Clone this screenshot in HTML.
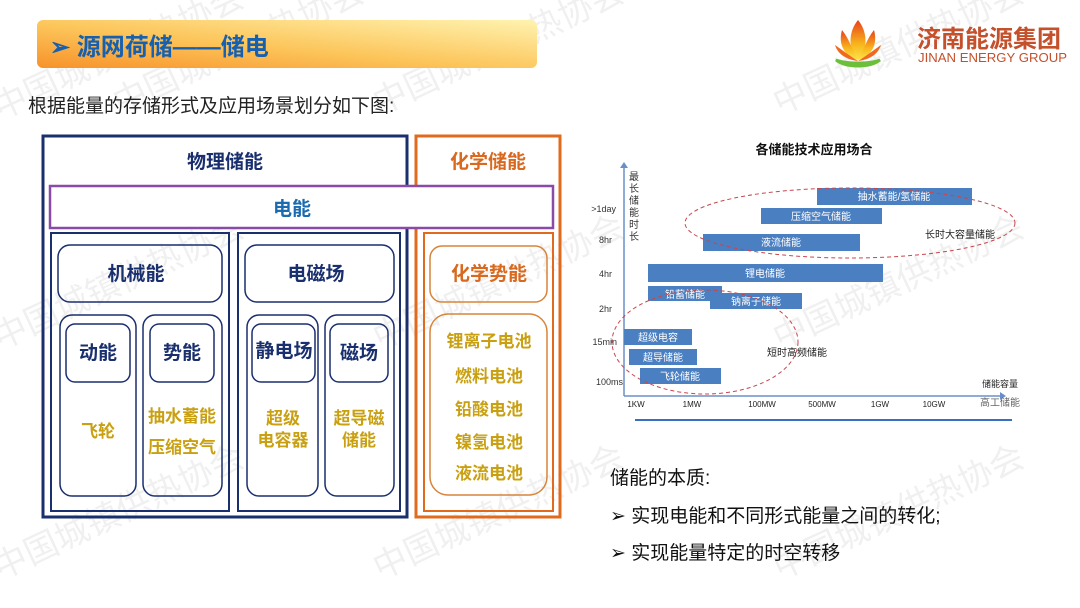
<!DOCTYPE html>
<html><head><meta charset="utf-8"><style>
html,body{margin:0;padding:0;background:#fff;}
svg{display:block;}
text{font-family:"Liberation Sans","Noto Sans CJK SC",sans-serif;}
</style></head><body>
<svg width="1080" height="608" viewBox="0 0 1080 608" xmlns="http://www.w3.org/2000/svg">
<defs>
<linearGradient id="hb" x1="0" y1="1" x2="1" y2="0">
<stop offset="0" stop-color="#f7922a"/><stop offset="0.45" stop-color="#fcc55a"/><stop offset="1" stop-color="#fff3b0"/>
</linearGradient>
<linearGradient id="lotus" x1="0" y1="0" x2="0" y2="1">
<stop offset="0" stop-color="#e8401c"/><stop offset="0.6" stop-color="#f8b51c"/><stop offset="1" stop-color="#fde34a"/>
</linearGradient>
<linearGradient id="leaf" x1="0" y1="0" x2="1" y2="0">
<stop offset="0" stop-color="#e83a2a"/><stop offset="0.5" stop-color="#7cc53c"/><stop offset="1" stop-color="#e83a2a"/>
</linearGradient>
</defs>
<rect width="1080" height="608" fill="#fff"/>
<!-- watermarks -->
<g fill="#000" opacity="0.06" font-size="34">
<text transform="translate(0,120) rotate(-25)">中国城镇供热协会</text>
<text transform="translate(120,115) rotate(-25)">中国城镇供热协会</text>
<text transform="translate(380,115) rotate(-25)">中国城镇供热协会</text>
<text transform="translate(780,115) rotate(-25)">中国城镇供热协会</text>
<text transform="translate(0,350) rotate(-25)">中国城镇供热协会</text>
<text transform="translate(380,350) rotate(-25)">中国城镇供热协会</text>
<text transform="translate(780,350) rotate(-25)">中国城镇供热协会</text>
<text transform="translate(0,580) rotate(-25)">中国城镇供热协会</text>
<text transform="translate(380,580) rotate(-25)">中国城镇供热协会</text>
<text transform="translate(780,580) rotate(-25)">中国城镇供热协会</text>
</g>
<!-- header -->
<rect x="37" y="20" width="500" height="48" rx="6" fill="url(#hb)"/>
<text x="50" y="55" font-size="24" font-weight="bold" fill="#1560b0">➢ 源网荷储——储电</text>
<!-- logo -->
<g>
<path d="M858,20 C848,32 848,50 858,60 C868,50 868,32 858,20Z" fill="url(#lotus)"/>
<path d="M842,30 C838,44 844,56 858,60 C852,50 850,40 842,30Z" fill="url(#lotus)"/>
<path d="M874,30 C878,44 872,56 858,60 C864,50 866,40 874,30Z" fill="url(#lotus)"/>
<path d="M835,45 C838,55 848,60 858,61 C850,56 842,50 835,45Z" fill="#ef6a20"/>
<path d="M881,45 C878,55 868,60 858,61 C866,56 874,50 881,45Z" fill="#ef6a20"/>
<path d="M836,60 C846,68 870,68 880,60 C870,64 846,64 836,60Z" fill="url(#leaf)" stroke="#6cbf3a" stroke-width="3"/>
</g>
<text x="917" y="47" font-size="24" font-weight="bold" fill="#c4502c">济南能源集团</text>
<text x="918" y="62" font-size="12.5" fill="#c4502c" textLength="149" lengthAdjust="spacingAndGlyphs">JINAN ENERGY GROUP</text>
<text x="28" y="112" font-size="19" fill="#222">根据能量的存储形式及应用场景划分如下图:</text>

<!-- left diagram -->
<g fill="none">
<rect x="43" y="136" width="364" height="381" stroke="#1a2f6e" stroke-width="3"/>
<rect x="416" y="136" width="144" height="381" stroke="#e06a1e" stroke-width="3"/>
<rect x="50" y="186" width="503" height="42" stroke="#8a4aa8" stroke-width="2.5" fill="#fff"/>
<rect x="51" y="233" width="178" height="278" stroke="#1a2f6e" stroke-width="2"/>
<rect x="238" y="233" width="162" height="278" stroke="#1a2f6e" stroke-width="2"/>
<rect x="424" y="233" width="129" height="278" stroke="#e06a1e" stroke-width="2"/>
<g stroke="#1a2f6e" stroke-width="1.5">
<rect x="58" y="245" width="164" height="57" rx="12"/>
<rect x="60" y="315" width="76" height="181" rx="12"/>
<rect x="66" y="324" width="64" height="58" rx="9"/>
<rect x="143" y="315" width="79" height="181" rx="12"/>
<rect x="150" y="324" width="64" height="58" rx="9"/>
<rect x="245" y="245" width="149" height="57" rx="12"/>
<rect x="247" y="315" width="71" height="181" rx="12"/>
<rect x="252" y="324" width="63" height="58" rx="9"/>
<rect x="325" y="315" width="69" height="181" rx="12"/>
<rect x="330" y="324" width="58" height="58" rx="9"/>
</g>
<g stroke="#d8843a" stroke-width="1.5">
<rect x="430" y="246" width="117" height="56" rx="12"/>
<rect x="430" y="314" width="117" height="181" rx="18"/>
</g>
</g>
<g font-weight="bold" text-anchor="middle" font-size="19">
<text x="225" y="168" fill="#1a2f6e">物理储能</text>
<text x="488" y="168" fill="#d9691e">化学储能</text>
<text x="292" y="215" fill="#1c6bb0">电能</text>
<text x="136" y="280" fill="#1a2f6e">机械能</text>
<text x="316" y="280" fill="#1a2f6e">电磁场</text>
<text x="489" y="280" fill="#d9691e">化学势能</text>
<text x="98" y="359" fill="#1a2f6e">动能</text>
<text x="182" y="359" fill="#1a2f6e">势能</text>
<text x="284" y="357" fill="#1a2f6e">静电场</text>
<text x="359" y="359" fill="#1a2f6e">磁场</text>
<g fill="#c9a011" font-size="17">
<text x="98" y="437">飞轮</text>
<text x="182" y="422">抽水蓄能</text>
<text x="182" y="453">压缩空气</text>
<text x="283" y="424">超级</text>
<text x="283" y="446">电容器</text>
<text x="359" y="424">超导磁</text>
<text x="359" y="446">储能</text>
<text x="489" y="347">锂离子电池</text>
<text x="489" y="382">燃料电池</text>
<text x="489" y="415">铅酸电池</text>
<text x="489" y="448">镍氢电池</text>
<text x="489" y="479">液流电池</text>
</g>
</g>

<!-- chart -->
<text x="814" y="154" font-size="13" font-weight="bold" text-anchor="middle" fill="#111">各储能技术应用场合</text>
<line x1="624" y1="396" x2="624" y2="166" stroke="#6a8fc8" stroke-width="1.5"/>
<path d="M620,168 L624,162 L628,168Z" fill="#6a8fc8"/>
<line x1="624" y1="396" x2="1003" y2="396" stroke="#6a8fc8" stroke-width="1.5"/>
<path d="M1000,392 L1006,396 L1000,400Z" fill="#6a8fc8"/>
<g font-size="9" fill="#333" text-anchor="end">
<text x="616" y="212">&gt;1day</text><text x="612" y="243">8hr</text><text x="612" y="277">4hr</text><text x="612" y="312">2hr</text><text x="617" y="345">15min</text><text x="623" y="385">100ms</text>
</g>
<g font-size="10" fill="#333" text-anchor="middle">
<text x="634" y="180">最</text><text x="634" y="192">长</text><text x="634" y="204">储</text><text x="634" y="216">能</text><text x="634" y="228">时</text><text x="634" y="240">长</text>
</g>
<g fill="#4a7fc1">
<rect x="817" y="188" width="155" height="17"/>
<rect x="761" y="208" width="121" height="16"/>
<rect x="703" y="234" width="157" height="17"/>
<rect x="648" y="264" width="235" height="18"/>
<rect x="710" y="293" width="92" height="16"/>
<rect x="648" y="286" width="74" height="15"/>
<rect x="624" y="329" width="68" height="16"/>
<rect x="629" y="349" width="68" height="16"/>
<rect x="640" y="368" width="81" height="16"/>
</g>
<g font-size="10" fill="#fff" text-anchor="middle">
<text x="894" y="200">抽水蓄能/氢储能</text>
<text x="821" y="220">压缩空气储能</text>
<text x="781" y="246">液流储能</text>
<text x="765" y="277">锂电储能</text>
<text x="685" y="298">铅蓄储能</text>
<text x="756" y="305">钠离子储能</text>
<text x="658" y="341">超级电容</text>
<text x="663" y="361">超导储能</text>
<text x="680" y="380">飞轮储能</text>
</g>
<ellipse cx="850" cy="223" rx="165" ry="35" fill="none" stroke="#c8464e" stroke-width="1" stroke-dasharray="4,3"/>
<ellipse cx="705" cy="342" rx="93" ry="52" fill="none" stroke="#c8464e" stroke-width="1" stroke-dasharray="4,3"/>
<text x="960" y="238" font-size="10" fill="#222" text-anchor="middle">长时大容量储能</text>
<text x="797" y="356" font-size="10" fill="#222" text-anchor="middle">短时高频储能</text>
<text x="1000" y="387" font-size="9" fill="#222" text-anchor="middle">储能容量</text>
<g font-size="8" fill="#222" text-anchor="middle">
<text x="636" y="407">1KW</text><text x="692" y="407">1MW</text><text x="762" y="407">100MW</text><text x="822" y="407">500MW</text><text x="880" y="407">1GW</text><text x="934" y="407">10GW</text>
</g>
<text x="980" y="406" font-size="10" fill="#666">高工储能</text>
<line x1="635" y1="420" x2="1012" y2="420" stroke="#3a6fc0" stroke-width="2"/>

<!-- bottom text -->
<g font-size="19" fill="#111">
<text x="610" y="484">储能的本质:</text>
<text x="610" y="522">➢ 实现电能和不同形式能量之间的转化;</text>
<text x="610" y="559">➢ 实现能量特定的时空转移</text>
</g>
</svg>
</body></html>
